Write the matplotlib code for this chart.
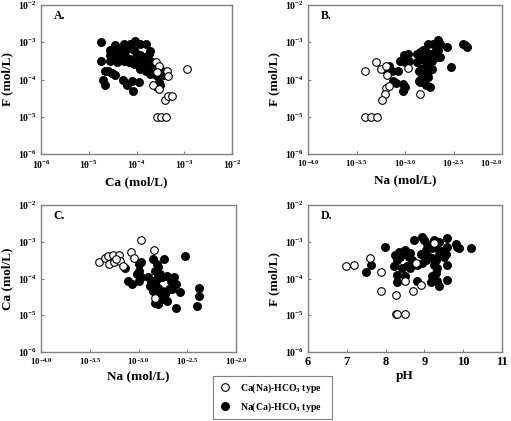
import numpy as np
import matplotlib
matplotlib.use('Agg')
import matplotlib.pyplot as plt
from matplotlib.ticker import FixedLocator, FixedFormatter, NullLocator

plt.rcParams['font.family'] = 'Liberation Serif'
plt.rcParams['font.weight'] = 'bold'
plt.rcParams['mathtext.default'] = 'regular'

# values, log10(mol/L) unless pH
# A: Ca vs F
a_fill_ca = [-4.74, -4.74, -4.65, -4.60, -4.51, -4.44, -4.70, -4.65, -4.28, -4.20, -4.09, -4.07, -3.95,
             -4.44, -4.27, -4.13, -4.04, -3.92, -3.81, -4.55, -4.48, -4.41, -4.30, -4.20, -4.06, -3.99,
             -3.92, -3.85, -3.74, -3.71, -4.55, -4.44, -4.34, -4.23, -4.13, -4.02, -3.92, -3.81, -3.74,
             -3.67, -4.55, -4.41, -4.27, -4.16, -4.06, -3.95, -3.88, -3.81, -3.71, -3.60, -3.92, -3.81,
             -3.71, -3.60, -3.50, -3.46, -3.43, -3.53, -3.50, -3.57]
a_fill_f = [-2.99, -3.51, -3.76, -3.78, -3.83, -3.87, -4.00, -4.16, -4.00, -4.14, -4.03, -4.30, -4.07,
            -3.08, -3.06, -3.04, -2.97, -3.06, -3.06, -3.22, -3.26, -3.17, -3.22, -3.19, -3.22, -3.31,
            -3.35, -3.40, -3.31, -3.24, -3.35, -3.40, -3.35, -3.40, -3.44, -3.49, -3.49, -3.53, -3.58,
            -3.53, -3.49, -3.53, -3.49, -3.53, -3.58, -3.62, -3.67, -3.71, -3.76, -3.67, -3.71, -3.78,
            -3.85, -3.89, -3.71, -3.80, -3.89, -4.07, -4.16, -4.21]
a_open_ca = [-3.60, -3.53, -3.36, -3.57, -3.34, -2.94, -3.65, -3.53, -3.41, -3.34, -3.25, -3.57, -3.48, -3.39]
a_open_f = [-3.53, -3.64, -3.76, -3.80, -3.91, -3.71, -4.16, -4.25, -4.54, -4.44, -4.44, -5.02, -5.02, -5.02]

# B: Na vs F
b_fill_na = [-3.19, -3.16, -3.13, -3.07, -3.12, -3.09, -3.05, -3.01, -2.97, -3.00, -2.96, -3.02, -3.00,
             -3.02, -2.88, -2.85, -2.81, -2.78, -2.74, -2.71, -2.67, -2.64, -2.85, -2.81, -2.78, -2.74,
             -2.88, -2.86, -2.83, -2.79, -2.76, -2.72, -2.76, -2.86, -2.83, -2.79, -2.76, -2.85, -2.78,
             -2.74, -2.76, -2.71, -2.66, -2.64, -2.57, -2.53, -2.40, -2.38, -2.72, -2.69, -2.66, -2.36]
b_fill_f = [-3.76, -3.64, -3.78, -3.76, -4.03, -4.09, -3.49, -3.35, -3.31, -3.53, -3.49, -4.11, -4.21,
            -4.30, -3.31, -3.26, -3.22, -3.26, -3.31, -3.35, -3.40, -3.40, -3.40, -3.44, -3.49, -3.44,
            -3.53, -3.76, -3.71, -3.67, -3.62, -3.71, -3.80, -4.03, -3.98, -3.89, -3.94, -4.07, -4.16,
            -4.21, -3.04, -3.04, -2.95, -3.04, -3.13, -3.67, -3.04, -3.08, -3.49, -3.26, -3.22, -3.13]
b_open_na = [-3.41, -3.30, -3.25, -3.20, -3.19, -3.20, -3.16, -3.21, -3.24, -2.97, -2.85, -3.41, -3.35, -3.29]
b_open_f = [-3.78, -3.53, -3.73, -3.64, -3.89, -4.23, -4.18, -4.39, -4.54, -3.69, -4.39, -5.02, -5.02, -5.02]

# C: Na vs Ca
c_fill_na = [-3.14, -3.11, -3.07, -3.00, -2.97, -2.99, -3.02, -2.97, -3.00, -2.85, -2.74, -2.81, -2.80,
             -2.83, -2.78, -2.90, -2.87, -2.83, -2.80, -2.76, -2.73, -2.85, -2.81, -2.76, -2.71, -2.67,
             -2.64, -2.62, -2.88, -2.85, -2.81, -2.78, -2.74, -2.83, -2.80, -2.71, -2.69, -2.66, -2.57,
             -2.62, -2.52, -2.38, -2.38, -2.40]
c_fill_ca = [-3.72, -4.06, -4.15, -3.61, -3.56, -3.79, -3.88, -3.97, -4.06, -3.47, -3.47, -3.61, -3.70,
             -3.79, -3.88, -3.97, -4.06, -4.15, -4.25, -4.34, -4.43, -4.06, -4.02, -3.97, -3.93, -4.06,
             -3.97, -4.15, -4.20, -4.34, -4.43, -4.52, -4.56, -4.66, -4.70, -4.61, -4.29, -4.29, -4.38,
             -4.79, -3.38, -4.25, -4.47, -4.75]
c_open_na = [-2.97, -2.84, -3.08, -3.41, -3.34, -3.31, -3.26, -3.20, -3.30, -3.25, -3.19, -3.16, -3.23, -3.05, -2.83]
c_open_ca = [-2.95, -3.23, -3.29, -3.56, -3.44, -3.39, -3.36, -3.36, -3.61, -3.56, -3.52, -3.65, -3.47, -3.43, -4.54]

# D: pH vs F
d_fill_ph = [7.50, 7.62, 7.99, 8.21, 8.29, 8.38, 8.47, 8.34, 8.51, 8.64, 8.60, 8.68, 8.29, 8.29, 8.51,
             8.25, 8.55, 8.64, 8.42, 8.73, 8.94, 8.98, 8.81, 8.94, 9.03, 8.90, 9.03, 9.11, 9.20, 9.29,
             9.37, 9.46, 9.55, 9.59, 9.59, 9.11, 9.20, 9.29, 9.37, 9.50, 9.24, 9.33, 9.29, 9.20, 9.33,
             9.37, 9.16, 8.81, 9.59, 9.59, 9.81, 9.85, 9.89, 10.20, 9.07, 9.24, 9.37]
d_fill_f = [-3.83, -3.63, -3.15, -3.67, -3.49, -3.41, -3.32, -3.27, -3.23, -3.30, -3.41, -3.49, -3.90,
            -4.10, -3.94, -3.36, -3.67, -3.72, -3.72, -2.96, -2.87, -2.96, -3.63, -3.57, -3.49, -3.32,
            -3.23, -3.14, -3.18, -3.14, -3.23, -3.27, -3.32, -3.14, -2.91, -3.41, -3.45, -3.49, -3.36,
            -3.41, -3.63, -3.72, -3.85, -3.94, -4.08, -4.21, -4.10, -4.08, -3.63, -4.03, -3.05, -3.14,
            -3.18, -3.18, -3.05, -2.96, -3.00]
d_open_ph = [6.98, 7.19, 7.60, 7.88, 7.88, 8.28, 8.49, 8.71, 8.90, 8.79, 8.28, 8.30, 8.50, 9.26]
d_open_f = [-3.66, -3.63, -3.45, -3.83, -4.33, -4.46, -4.08, -4.33, -4.17, -3.57, -4.97, -4.97, -4.97, -3.03]

labels = ['Ca(Na)-HCO$_3$ type', 'Na(Ca)-HCO$_3$ type']

fig = plt.figure(figsize=(5.11, 4.21), dpi=100)
W, H = 511, 421


def add_ax(left, top, right, bottom):
    return fig.add_axes([left / W, 1 - bottom / H, (right - left) / W, (bottom - top) / H])


axA = add_ax(41, 5, 232, 154)
axB = add_ax(308, 5, 502, 154)
axC = add_ax(41, 205, 236, 352)
axD = add_ax(308, 205, 502, 352)

fill_kw = dict(s=34, c='black', edgecolors='black', linewidths=0.6, zorder=3)
open_kw = dict(s=30, c='white', edgecolors='black', linewidths=0.8, zorder=4)

axA.scatter(10 ** np.array(a_fill_ca), 10 ** np.array(a_fill_f), **fill_kw)
axA.scatter(10 ** np.array(a_open_ca), 10 ** np.array(a_open_f), **open_kw)
axB.scatter(10 ** np.array(b_fill_na), 10 ** np.array(b_fill_f), **fill_kw)
axB.scatter(10 ** np.array(b_open_na), 10 ** np.array(b_open_f), **open_kw)
axC.scatter(10 ** np.array(c_fill_na), 10 ** np.array(c_fill_ca), **fill_kw)
axC.scatter(10 ** np.array(c_open_na), 10 ** np.array(c_open_ca), **open_kw)
axD.scatter(d_fill_ph, 10 ** np.array(d_fill_f), **fill_kw)
axD.scatter(d_open_ph, 10 ** np.array(d_open_f), **open_kw)

y_ticks = [1e-6, 1e-5, 1e-4, 1e-3, 1e-2]
y_labels = ['$10^{-6}$', '$10^{-5}$', '$10^{-4}$', '$10^{-3}$', '$10^{-2}$']
na_exp = [-4.0, -3.5, -3.0, -2.5, -2.0]
na_labels = ['$10^{-4.0}$', '$10^{-3.5}$', '$10^{-3.0}$', '$10^{-2.5}$', '$10^{-2.0}$']

for ax in (axA, axB, axC, axD):
    ax.set_yscale('log')
    ax.set_ylim(1e-6, 1e-2)
    ax.yaxis.set_major_locator(FixedLocator(y_ticks))
    ax.yaxis.set_major_formatter(FixedFormatter(y_labels))
    ax.yaxis.set_minor_locator(NullLocator())
    for sp in ax.spines.values():
        sp.set_color('#808080')
        sp.set_linewidth(1.0)
    ax.tick_params(direction='in', length=2, width=0.8, color='#808080',
                   labelsize=7, pad=3)

axA.set_xscale('log')
axA.set_xlim(1e-6, 1e-2)
axA.xaxis.set_major_locator(FixedLocator(y_ticks))
axA.xaxis.set_major_formatter(FixedFormatter(y_labels))
axA.xaxis.set_minor_locator(NullLocator())

for ax in (axB, axC):
    ax.set_xscale('log')
    ax.set_xlim(1e-4, 1e-2)
    ax.xaxis.set_major_locator(FixedLocator([10 ** e for e in na_exp]))
    ax.xaxis.set_major_formatter(FixedFormatter(na_labels))
    ax.xaxis.set_minor_locator(NullLocator())
    ax.tick_params(axis='x', labelsize=6.5)

# keep the last Na label inside the figure
fig.canvas.draw()
axB.get_xticklabels()[-1].set_horizontalalignment('right')

axD.set_xlim(6, 11)
axD.set_xticks([6, 7, 8, 9, 10, 11])
axD.tick_params(axis='x', labelsize=9)

lab_kw = dict(fontsize=9.5, fontweight='bold')
axA.set_xlabel('Ca (mol/L)', labelpad=4, **lab_kw)
axA.set_ylabel('F (mol/L)', labelpad=3, **lab_kw)
axB.set_xlabel('Na (mol/L)', labelpad=4, **lab_kw)
axB.set_ylabel('F (mol/L)', labelpad=3, **lab_kw)
axC.set_xlabel('Na (mol/L)', labelpad=2, **lab_kw)
axC.set_ylabel('Ca (mol/L)', labelpad=3, **lab_kw)
axD.set_xlabel('pH', labelpad=1, **lab_kw)
axD.set_ylabel('F (mol/L)', labelpad=3, **lab_kw)

for ax, t in zip((axA, axB, axC, axD), ('A.', 'B.', 'C.', 'D.')):
    ax.text(0.065, 0.965, t, transform=ax.transAxes, ha='left', va='top',
            fontsize=8.5, fontweight='bold')

h_open = plt.Line2D([], [], ls='none', marker='o', ms=5.5, mfc='white', mec='black', mew=0.8)
h_fill = plt.Line2D([], [], ls='none', marker='o', ms=5.5, mfc='black', mec='black')
leg = fig.legend([h_open, h_fill], labels, loc='lower left',
                 bbox_to_anchor=(213 / W, 2 / H, 119 / W, 36 / H), mode='expand',
                 borderaxespad=0,
                 prop={'size': 7, 'weight': 'bold'}, frameon=True, fancybox=False,
                 borderpad=0.5, labelspacing=0.6, handletextpad=0.8, handlelength=1.5)
leg.get_frame().set_edgecolor('#606060')
leg.get_frame().set_linewidth(0.8)

fig.savefig('out.png', dpi=100)
